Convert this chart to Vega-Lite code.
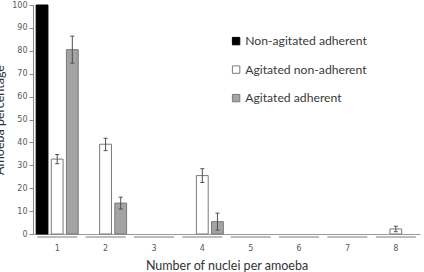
{
  "$schema": "https://vega.github.io/schema/vega-lite/v6.json",
  "width": 387,
  "height": 229,
  "autosize": "none",
  "padding": {"left": 33, "top": 5, "right": 4, "bottom": 38},
  "config": {
    "view": {"stroke": null},
    "font": "Lato",
    "axis": {"grid": false, "titleFontWeight": "normal", "titleFont": "Lato", "titleColor": "#333333", "titleFontSize": 12.5},
    "axisY": {
      "tickCount": 10,
      "labelOverlap": false,
      "labelFlush": false,
      "labelBound": false,
      "domainColor": "#868686",
      "tickColor": "#868686",
      "tickSize": 4,
      "labelFont": "DejaVu Sans",
      "labelFontSize": 8,
      "labelColor": "#595959",
      "labelPadding": 2,
      "titlePadding": 5
    }
  },
  "data": {
    "values": [
      {"n": "1", "group": "Non-agitated adherent", "value": 100},
      {"n": "1", "group": "Agitated non-adherent", "value": 32.7, "lo": 30.7, "hi": 34.7},
      {"n": "1", "group": "Agitated adherent", "value": 80.5, "lo": 74.6, "hi": 86.4},
      {"n": "2", "group": "Non-agitated adherent", "value": 0},
      {"n": "2", "group": "Agitated non-adherent", "value": 39.2, "lo": 36.4, "hi": 41.8},
      {"n": "2", "group": "Agitated adherent", "value": 13.5, "lo": 10.9, "hi": 16.1},
      {"n": "3", "group": "Non-agitated adherent", "value": 0},
      {"n": "3", "group": "Agitated non-adherent", "value": 0},
      {"n": "3", "group": "Agitated adherent", "value": 0},
      {"n": "4", "group": "Non-agitated adherent", "value": 0},
      {"n": "4", "group": "Agitated non-adherent", "value": 25.5, "lo": 22.5, "hi": 28.5},
      {"n": "4", "group": "Agitated adherent", "value": 5.4, "lo": 1.7, "hi": 9.1},
      {"n": "5", "group": "Non-agitated adherent", "value": 0},
      {"n": "5", "group": "Agitated non-adherent", "value": 0},
      {"n": "5", "group": "Agitated adherent", "value": 0},
      {"n": "6", "group": "Non-agitated adherent", "value": 0},
      {"n": "6", "group": "Agitated non-adherent", "value": 0},
      {"n": "6", "group": "Agitated adherent", "value": 0},
      {"n": "7", "group": "Non-agitated adherent", "value": 0},
      {"n": "7", "group": "Agitated non-adherent", "value": 0},
      {"n": "7", "group": "Agitated adherent", "value": 0},
      {"n": "8", "group": "Non-agitated adherent", "value": 0},
      {"n": "8", "group": "Agitated non-adherent", "value": 2.2, "lo": 1.0, "hi": 3.4},
      {"n": "8", "group": "Agitated adherent", "value": 0}
    ]
  },
  "encoding": {
    "x": {
      "field": "n",
      "type": "nominal",
      "scale": {"paddingInner": 0.13, "paddingOuter": 0.065},
      "axis": {
        "title": "Number of nuclei per amoeba",
        "labelAngle": 0,
        "ticks": false,
        "domainColor": "#9a9a9a",
        "labelFont": "DejaVu Sans",
        "labelFontSize": 8,
        "labelColor": "#595959",
        "labelPadding": 10,
        "titlePadding": 7
      }
    },
    "xOffset": {
      "field": "group",
      "type": "nominal",
      "sort": ["Non-agitated adherent", "Agitated non-adherent", "Agitated adherent"],
      "scale": {"paddingInner": 0.22, "paddingOuter": 0}
    }
  },
  "layer": [
    {
      "transform": [{"filter": "datum.value > 0"}],
      "mark": {"type": "bar", "strokeWidth": 1},
      "encoding": {
        "y": {
          "field": "value",
          "type": "quantitative",
          "title": "Amoeba percentage",
          "scale": {"domain": [0, 100], "nice": false}
        },
        "fill": {
          "field": "group",
          "type": "nominal",
          "sort": ["Non-agitated adherent", "Agitated non-adherent", "Agitated adherent"],
          "scale": {"domain": ["Non-agitated adherent", "Agitated non-adherent", "Agitated adherent"], "range": ["#000000", "#ffffff", "#a3a3a3"]},
          "legend": {
            "orient": "none",
            "legendX": 197,
            "legendY": 30,
            "title": null,
            "symbolType": "square",
            "symbolSize": 55,
            "symbolStrokeWidth": 1,
            "labelFont": "Lato",
            "labelFontSize": 12.2,
            "labelColor": "#3a3a3a",
            "labelOffset": 3,
            "rowPadding": 15.5
          }
        },
        "stroke": {
          "field": "group",
          "type": "nominal",
          "scale": {"domain": ["Non-agitated adherent", "Agitated non-adherent", "Agitated adherent"], "range": ["#000000", "#7a7a7a", "#7a7a7a"]},
          "legend": {
            "orient": "none",
            "legendX": 197,
            "legendY": 30,
            "title": null,
            "symbolType": "square",
            "symbolSize": 55,
            "symbolStrokeWidth": 1,
            "labelFont": "Lato",
            "labelFontSize": 12.2,
            "labelColor": "#3a3a3a",
            "labelOffset": 3,
            "rowPadding": 15.5
          }
        }
      }
    },
    {
      "transform": [{"filter": "datum.group === 'Non-agitated adherent'"}],
      "mark": {"type": "tick", "color": "#bdbdbd", "thickness": 2, "size": 40, "yOffset": 3, "opacity": 1},
      "encoding": {
        "xOffset": null,
        "y": {"datum": 0, "type": "quantitative", "title": "Amoeba percentage"}
      }
    },
    {
      "transform": [{"filter": "isValid(datum.lo)"}],
      "mark": {"type": "rule", "color": "#505050", "strokeWidth": 1},
      "encoding": {
        "y": {"field": "lo", "type": "quantitative", "title": "Amoeba percentage"},
        "y2": {"field": "hi"}
      }
    },
    {
      "transform": [{"filter": "isValid(datum.lo)"}],
      "mark": {"type": "tick", "color": "#505050", "thickness": 1, "size": 4, "opacity": 1},
      "encoding": {"y": {"field": "lo", "type": "quantitative", "title": "Amoeba percentage"}}
    },
    {
      "transform": [{"filter": "isValid(datum.hi)"}],
      "mark": {"type": "tick", "color": "#505050", "thickness": 1, "size": 4, "opacity": 1},
      "encoding": {"y": {"field": "hi", "type": "quantitative", "title": "Amoeba percentage"}}
    }
  ]
}
